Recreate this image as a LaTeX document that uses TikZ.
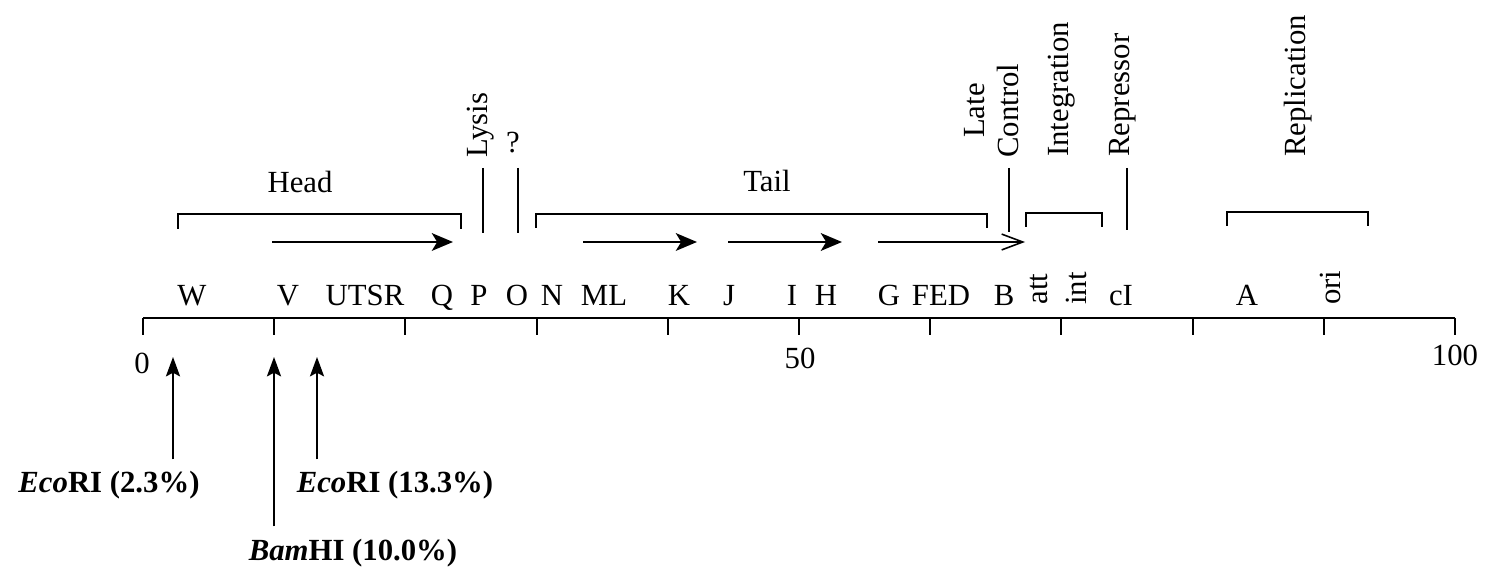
\documentclass[tikz,border=0pt]{standalone}
\usepackage{fontspec}
\setmainfont{Liberation Serif}
\usetikzlibrary{arrows.meta}

\begin{document}
\begin{tikzpicture}[x=0.02cm, y=-0.02cm,
    font=\fontsize{17.5}{19}\selectfont,
    every node/.style={inner sep=0pt},
    gene/.style={anchor=base},
    vgene/.style={anchor=base west, rotate=90},
    func/.style={anchor=base west, rotate=90},
    axisline/.style={line width=1.1pt},
    genebracket/.style={line width=1.3pt},
    divider/.style={line width=1.2pt},
    operon/.style={line width=1.7pt, -{Stealth[length=12pt, width=10pt, inset=3pt]}},
    site/.style={line width=1.1pt, -{Stealth[length=11pt, width=8pt, inset=2pt]}},
    sitelabel/.style={font=\fontsize{17.5}{19}\selectfont\bfseries, anchor=base, outer sep=7pt}
]
    \useasboundingbox (0,0) rectangle (1486,573);

    % Map axis, 0 to 100 percent
    \coordinate (M0) at (143,318);    % 0
    \coordinate (M100) at (1455,318); % 100
    \draw[axisline] (M0) -- (M100);
    \foreach \t in {0,...,10}
        \draw[axisline] ({143+131.2*\t},318) -- ++(0,17);
    \node[anchor=north] (lab0) at (142,353) {0};
    \node[anchor=north] (lab50) at (800,348) {50};
    \node[anchor=north] (lab100) at (1455,345) {100};

    % Genes along the map
    \node[gene] (W) at (192,306) {W};
    \node[gene] (V) at (288,306) {V};
    \node[gene] (UTSR) at (365,306) {UTSR};
    \node[gene] (Q) at (442,306) {Q};
    \node[gene] (P) at (479,306) {P};
    \node[gene] (O) at (517,306) {O};
    \node[gene] (N) at (552,306) {N};
    \node[gene] (ML) at (604,306) {ML};
    \node[gene] (K) at (679,306) {K};
    \node[gene] (J) at (729,306) {J};
    \node[gene] (I) at (792,306) {I};
    \node[gene] (H) at (826,306) {H};
    \node[gene] (G) at (889,306) {G};
    \node[gene] (FED) at (941,306) {FED};
    \node[gene] (B) at (1004,306) {B};
    \node[vgene] (att) at (1047,305) {att};
    \node[vgene] (int) at (1086,305) {int};
    \node[gene] (cI) at (1121,306) {cI};
    \node[gene] (A) at (1247,306) {A};
    \node[vgene] (ori) at (1340,305) {ori};

    % Transcription arrows
    \draw[operon] (272,242) -- (453,242);
    \draw[operon] (583,242) -- (697,242);
    \draw[operon] (728,242) -- (842,242);
    \draw[line width=0.9pt, -{Straight Barb[length=12pt, width=9pt]}] (878,242) -- (1025,242);

    % Function brackets
    \draw[genebracket] (178,229) -- (178,214) -- (461,214) -- (461,229);
    \draw[genebracket] (536,228) -- (536,214) -- (987,214) -- (987,228);
    \draw[genebracket] (1026,227) -- (1026,213) -- (1102,213) -- (1102,227);
    \draw[genebracket] (1227,226) -- (1227,212) -- (1368,212) -- (1368,226);
    \node[gene] (head) at (300,193) {Head};
    \node[gene] (tail) at (767,192) {Tail};

    % Single functions
    \draw[divider] (483,168) -- (483,233);
    \draw[divider] (518,168) -- (518,233);
    \draw[divider] (1009,168) -- (1009,232);
    \draw[divider] (1127,168) -- (1127,230);
    \node[func] (lysis) at (487,158) {Lysis};
    \node[gene] (unk) at (513,153) {?};
    \node[func, align=center, anchor=south west] (late) at (1019,158) {Late\\Control};
    \node[func] (integ) at (1068,157) {Integration};
    \node[func] (repr) at (1129,157) {Repressor};
    \node[func] (repl) at (1305,157) {Replication};

    % Restriction sites
    \coordinate (s1) at (173,357); % 2.3
    \coordinate (s2) at (274,357); % 10.0
    \coordinate (s3) at (317,357); % 13.3
    \node[sitelabel] (eco1) at (109,493) {\textit{Eco}RI (2.3\%)};
    \node[sitelabel] (bam) at (353,560) {\textit{Bam}HI (10.0\%)};
    \node[sitelabel] (eco2) at (395,493) {\textit{Eco}RI (13.3\%)};
    \draw[site] (eco1.north -| s1) -- (s1);
    \draw[site] (bam.north -| s2) -- (s2);
    \draw[site] (eco2.north -| s3) -- (s3);

\end{tikzpicture}
\end{document}
